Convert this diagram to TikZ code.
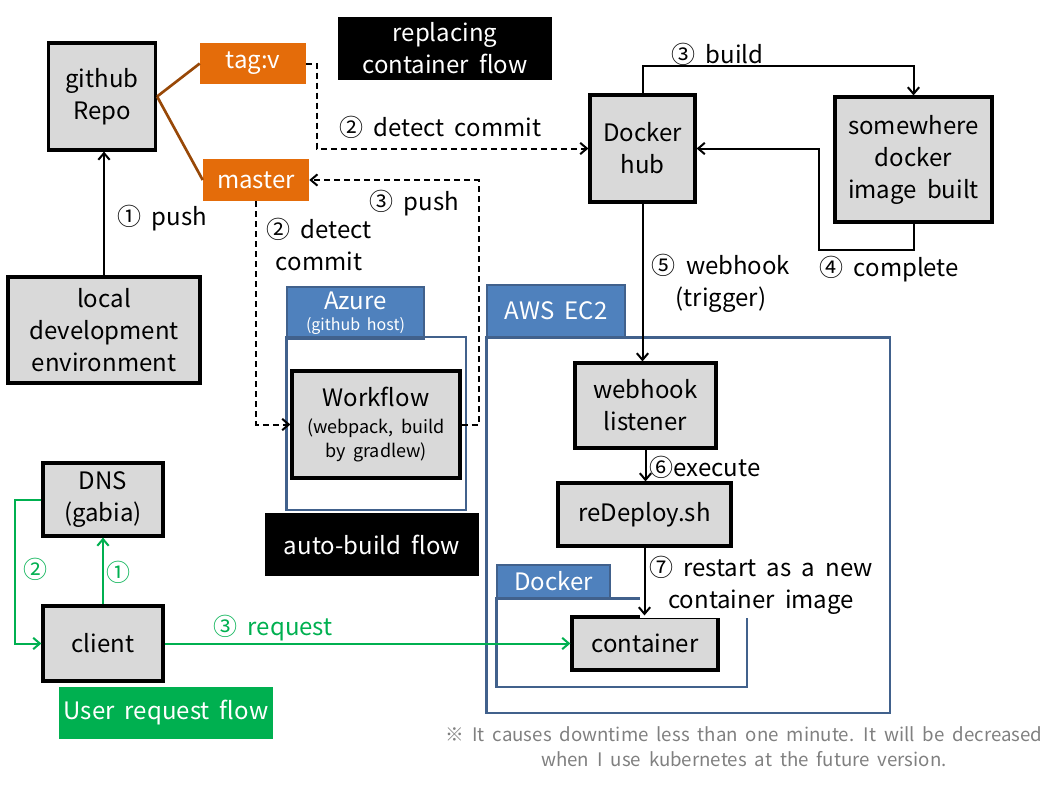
\documentclass[tikz,border=0pt]{standalone}
\usepackage{fontspec}
\setmainfont{Noto Sans CJK KR}[WordSpace=1.9]
\usepackage{tikz}
\usetikzlibrary{arrows.meta,calc}

\definecolor{boxgray}{HTML}{D9D9D9}
\definecolor{tagorange}{HTML}{E46C0A}
\definecolor{branchbrown}{HTML}{984807}
\definecolor{tabblue}{HTML}{4F81BD}
\definecolor{framecol}{HTML}{41618C}
\definecolor{flowgreen}{HTML}{00B050}
\definecolor{notegray}{HTML}{808080}

\newcommand\smalltxt{\fontsize{13.5}{17}\selectfont}
\newcommand\hosttxt{\fontsize{12}{14}\selectfont}

\tikzset{
  wh/.style 2 args={minimum width=#1*0.75pt,minimum height=#2*0.75pt},
  box/.style={draw,line width=2.4pt,fill=boxgray,align=center,inner sep=0pt},
  tagbox/.style={fill=tagorange,text=white,inner sep=0pt},
  titlebox/.style={fill=black,text=white,align=center,inner sep=0pt},
  tab/.style={draw=framecol,fill=tabblue,line width=1.2pt,text=white,align=center,inner sep=0pt},
  frame/.style={draw=framecol,line width=2.2pt},
  conn/.style={line width=1.5pt},
  dashconn/.style={line width=1.5pt,dash pattern=on 4.5pt off 3pt},
  gconn/.style={line width=1.5pt,flowgreen},
  lbl/.style={inner sep=1pt,align=center},
}

\begin{document}
\begin{tikzpicture}[x=0.75pt,y=-0.75pt]
  \tikzset{>={Straight Barb[length=5pt,width=8.5pt]}}
  \tikzset{every node/.style={font=\fontsize{18}{24}\selectfont}}
  \useasboundingbox (0,0) rectangle (1057,793);

  % git side
  \node[box,wh={107}{107}] (repo) at (102,96.5) {github\\Repo};
  \node[tagbox,wh={106}{41}] (tagv) at (253,63.5) {tag:v};
  \node[tagbox,wh={106}{42}] (master) at (256,180) {master};
  \node[box,wh={192}{106}] (local) at (104,330) {local\\development\\environment};
  \node[titlebox,wh={214}{63}] (replacing) at (445,48.5) {replacing\\container flow};

  \draw[branchbrown,line width=2pt] (repo.east) -- (tagv.west);
  \draw[branchbrown,line width=2pt] (repo.east) -- (master.west);
  \draw[conn,->] (local.north) -- (local.north |- repo.south);
  \node[lbl,anchor=west] (pushlbl) at (116,218) {① push};

  % docker hub build loop
  \node[box,wh={105}{107}] (dockerhub) at (642.5,148.5) {Docker\\hub};
  \node[box,wh={157}{125}] (somewhere) at (913.5,159.5) {somewhere\\docker\\image built};
  \draw[dashconn,->] (tagv.east) -- ++(11,0) |- (dockerhub.west);
  \node[lbl,anchor=west] (detectlbl) at (338,127) {② detect commit};
  \draw[conn,->] (dockerhub.north) -- ++(0,-27) -| (somewhere.north);
  \node[lbl,anchor=west] (buildlbl) at (670,54) {③ build};
  \draw[conn,->] (somewhere.south) |- ++(-95,26) |- (dockerhub.east);
  \node[lbl,anchor=west] (completelbl) at (818,269) {④ complete};

  % azure
  \node[tab,wh={137}{52}] (azuretab) at (355.5,313)
    {Azure\\[-8pt]{\hosttxt(github host)}};
  \draw[frame] (azuretab.south west |- 0,337) rectangle (466,510);
  \node[box,wh={168}{107}] (workflow) at (376,424.5)
    {Workflow\\[-4pt]{\smalltxt(webpack, build}\\[-6pt]{\smalltxt by gradlew)}};
  \draw[dashconn,->] (master.south) |- (workflow.west);
  \draw[dashconn,->] (workflow.east) -- ++(17,0) |- (master.east);
  \node[lbl,anchor=west] (push3lbl) at (368,203) {③ push};
  \node[lbl] (detect2lbl) at (319,244) {② detect\\commit};
  \node[titlebox,wh={214}{63}] (autobuild) at (372,544.5) {auto-build flow};

  % aws
  \node[tab,wh={138}{52}] (awstab) at (556,311) {AWS EC2};
  \draw[frame] (awstab.south west) rectangle (890,713);
  \node[box,wh={141}{85}] (listener) at (645.5,405.5) {webhook\\listener};
  \node[box,wh={173}{63}] (redeploy) at (644.5,514.5) {reDeploy.sh};
  \node[tab,wh={113}{33}] (dockertab) at (553.5,581.5) {Docker};
  \draw[frame] (dockertab.south west) rectangle (747,687);
  \node[box,wh={146}{53}] (container) at (645,643.5) {container};
  \draw[conn,->] (dockerhub.south) -- (dockerhub.south |- listener.north);
  \node[lbl] (webhooklbl) at (721,283) {⑤ webhook\\(trigger)};
  \draw[conn,->] (listener.south) -- (listener.south |- redeploy.north);
  \node[lbl,anchor=west] (executelbl) at (648,467) {⑥execute};
  \node[lbl,fill=white,inner xsep=7pt,inner ysep=3pt] (restartlbl) at (761,585) {⑦ restart as a new\\container image};
  \draw[conn,->] (redeploy.south) -- (redeploy.south |- container.north);

  % user request
  \node[box,wh={120}{73}] (dns) at (103,499.5) {DNS\\(gabia)};
  \node[box,wh={120}{75}] (client) at (103,643.5) {client};
  \draw[gconn,->] (dns.west) -- ++(-26,0) |- (client.west);
  \node[lbl,text=flowgreen] (dnslbl2) at (35,569) {②};
  \draw[gconn,->] (client.north) -- (dns.south);
  \node[lbl,text=flowgreen] (dnslbl1) at (118,572) {①};
  \draw[gconn,->] (client.east) -- (container.west);
  \node[lbl,text=flowgreen,anchor=west] (requestlbl) at (212,628) {③ request};
  \node[fill=flowgreen,text=white,inner sep=0pt,wh={214}{52}] (userflow) at (166,713) {User request flow};

  \node[text=notegray,align=center,font=\fontsize{14}{19}\selectfont] (note) at (744,747)
    {※ It causes downtime less than one minute. It will be decreased\\when I use kubernetes at the future version.};
\end{tikzpicture}
\end{document}
